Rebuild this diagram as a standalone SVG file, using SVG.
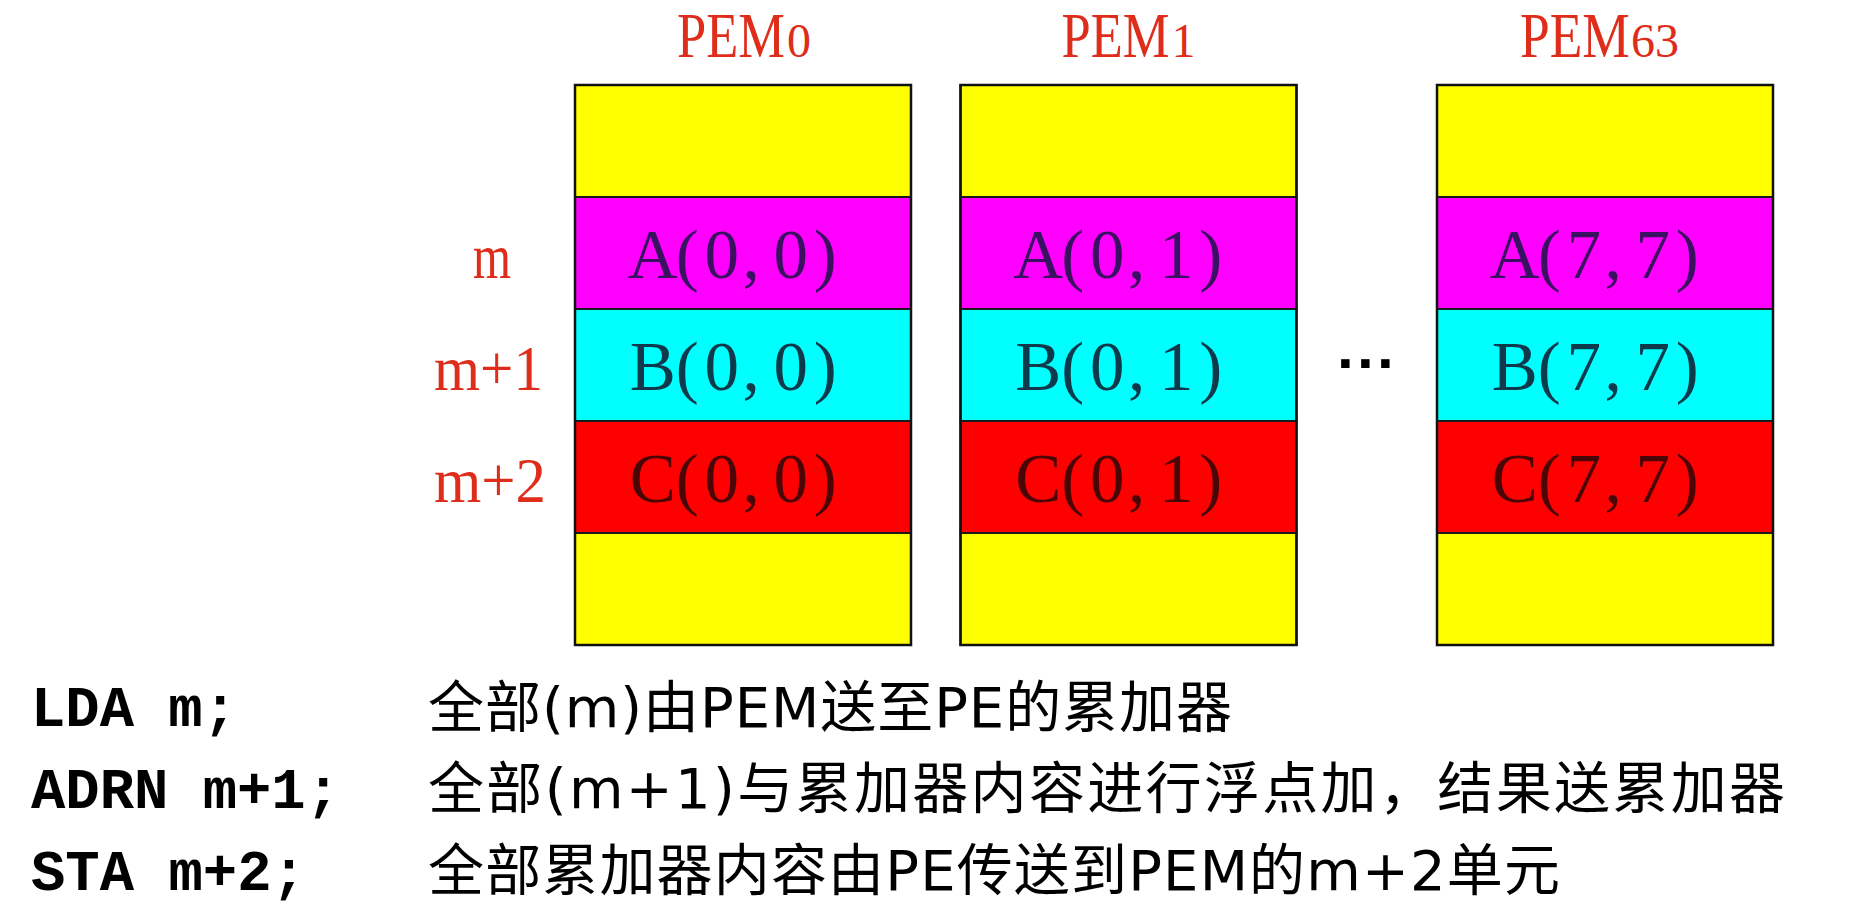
<svg xmlns="http://www.w3.org/2000/svg" width="1856" height="924" viewBox="0 0 1856 924">
<style>
.cell{stroke:#1a1a1a;stroke-width:2}
.y{fill:#ffff00}.mg{fill:#ff00ff}.cy{fill:#00ffff}.rd{fill:#ff0000}
.frame{fill:none;stroke:#111;stroke-width:2.5}
.title{font-family:"Liberation Serif",serif;font-size:64px;fill:#de2d1a}
.sub{font-family:"Liberation Serif",serif;font-size:48px;fill:#de2d1a}
.lbl{font-family:"Liberation Serif",serif;font-size:64px;fill:#de2d1a}
.ct{font-family:"Liberation Serif",serif;font-size:69px;text-anchor:middle}
.ta{fill:#3a1060}.tb{fill:#0e3a4c}.tc{fill:#4a0606}
.dots{font-family:"Liberation Sans",sans-serif;font-weight:bold;font-size:60px;fill:#000}
.code{font-family:"Liberation Mono",monospace;font-weight:bold;font-size:57px;fill:#000}
.zh{font-family:"DejaVu Sans","Noto Sans CJK SC",sans-serif;font-size:56px;fill:#000}
</style>
<rect width="1856" height="924" fill="#ffffff"/>
<defs>
<g id="stack">
<rect class="cell y" x="0" y="85" width="336" height="112"/>
<rect class="cell mg" x="0" y="197" width="336" height="112"/>
<rect class="cell cy" x="0" y="309" width="336" height="112"/>
<rect class="cell rd" x="0" y="421" width="336" height="112"/>
<rect class="cell y" x="0" y="533" width="336" height="112"/>
<rect class="frame" x="0" y="85" width="336" height="560"/>
</g>
</defs>
<g id="connectors"></g>
<g id="pem0" transform="translate(575,0)">
<use href="#stack"/>
<text class="title" transform="translate(102,57) scale(0.82,1)">PEM</text>
<text class="sub" x="212" y="57">0</text>
<text class="ct ta" x="77.75 112.25 146.75 176 215.75 250.25" y="278">A(0,0)</text>
<text class="ct tb" x="77.75 112.25 146.75 176 215.75 250.25" y="390">B(0,0)</text>
<text class="ct tc" x="77.75 112.25 146.75 176 215.75 250.25" y="502">C(0,0)</text>
</g>
<g id="pem1" transform="translate(960.5,0)">
<use href="#stack"/>
<text class="title" transform="translate(101,57) scale(0.82,1)">PEM</text>
<text class="sub" x="211" y="57">1</text>
<text class="ct ta" x="77.75 112.25 146.75 176 215.75 250.25" y="278">A(0,1)</text>
<text class="ct tb" x="77.75 112.25 146.75 176 215.75 250.25" y="390">B(0,1)</text>
<text class="ct tc" x="77.75 112.25 146.75 176 215.75 250.25" y="502">C(0,1)</text>
</g>
<g id="pem63" transform="translate(1437,0)">
<use href="#stack"/>
<text class="title" transform="translate(83,57) scale(0.835,1)">PEM</text>
<text class="sub" x="194" y="57">63</text>
<text class="ct ta" x="77.75 112.25 146.75 176 215.75 250.25" y="278">A(7,7)</text>
<text class="ct tb" x="77.75 112.25 146.75 176 215.75 250.25" y="390">B(7,7)</text>
<text class="ct tc" x="77.75 112.25 146.75 176 215.75 250.25" y="502">C(7,7)</text>
</g>
<g id="ellipsis">
<text class="dots" x="1337" y="383">···</text>
</g>
<g id="row-labels">
<text class="lbl" x="473" y="278" textLength="38" lengthAdjust="spacingAndGlyphs">m</text>
<text class="lbl" x="434" y="390" textLength="109" lengthAdjust="spacingAndGlyphs">m+1</text>
<text class="lbl" x="434" y="502" textLength="112" lengthAdjust="spacingAndGlyphs">m+2</text>
</g>
<g id="code">
<text class="code" x="31" y="726" textLength="206" lengthAdjust="spacingAndGlyphs">LDA m;</text>
<text class="code" x="31" y="808" textLength="309" lengthAdjust="spacingAndGlyphs">ADRN m+1;</text>
<text class="code" x="31" y="890" textLength="275" lengthAdjust="spacingAndGlyphs">STA m+2;</text>
</g>
<g id="desc">
<text class="zh" x="428" y="727" textLength="804" lengthAdjust="spacing">全部(m)由PEM送至PE的累加器</text>
<text class="zh" x="428" y="808" textLength="1357" lengthAdjust="spacing">全部(m+1)与累加器内容进行浮点加，结果送累加器</text>
<text class="zh" x="428" y="890" textLength="1132" lengthAdjust="spacing">全部累加器内容由PE传送到PEM的m+2单元</text>
</g>
</svg>
